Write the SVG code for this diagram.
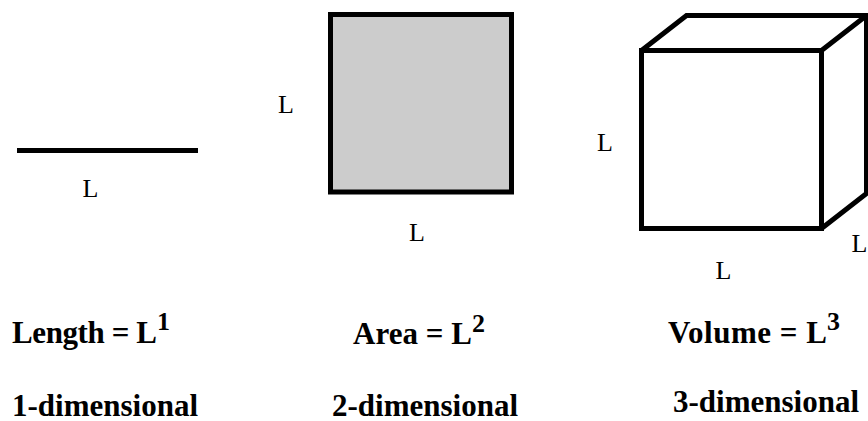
<svg xmlns="http://www.w3.org/2000/svg" width="868" height="421" viewBox="0 0 868 421">
<style>
.edge{fill:none;stroke:#000;stroke-width:5;stroke-linejoin:miter;stroke-linecap:butt}
.lbl{font-family:"Liberation Serif","Times New Roman",serif;font-size:26px;fill:#000;text-anchor:middle}
.big{font-family:"Liberation Serif","Times New Roman",serif;font-size:31px;font-weight:bold;fill:#000}
.sup{font-family:"Liberation Serif","Times New Roman",serif;font-size:26px;font-weight:bold;fill:#000}
</style>
<rect width="868" height="421" fill="#fff"/>
<g id="line1d">
<line class="edge" x1="17" y1="150.5" x2="198" y2="150.5"/>
<text class="lbl" x="90.5" y="197">L</text>
</g>
<g id="square2d">
<rect class="edge" x="330.5" y="14.5" width="181" height="177.5" style="fill:#cccccc"/>
<text class="lbl" x="286" y="113">L</text>
<text class="lbl" x="417" y="241">L</text>
</g>
<g id="cube3d">
<polyline class="edge" points="641.5,50.5 686.5,15.5 866.5,15.5 821.5,50.5"/>
<polyline class="edge" points="866.5,15.5 866.5,193.5 821.5,228.5"/>
<rect class="edge" x="641.5" y="50.5" width="180" height="178"/>
<text class="lbl" x="605" y="151">L</text>
<text class="lbl" x="723.5" y="279">L</text>
<text class="lbl" x="859.5" y="252">L</text>
</g>
<g id="captions">
<text class="big" x="12" y="343" textLength="145" lengthAdjust="spacing">Length = L</text>
<text class="sup" x="157" y="330">1</text>
<text class="big" x="353" y="344" textLength="119" lengthAdjust="spacing">Area = L</text>
<text class="sup" x="472" y="332">2</text>
<text class="big" x="668" y="343" textLength="159" lengthAdjust="spacing">Volume = L</text>
<text class="sup" x="827" y="330">3</text>
<text class="big" x="12" y="416">1-dimensional</text>
<text class="big" x="332" y="416">2-dimensional</text>
<text class="big" x="673" y="412">3-dimensional</text>
</g>
</svg>
